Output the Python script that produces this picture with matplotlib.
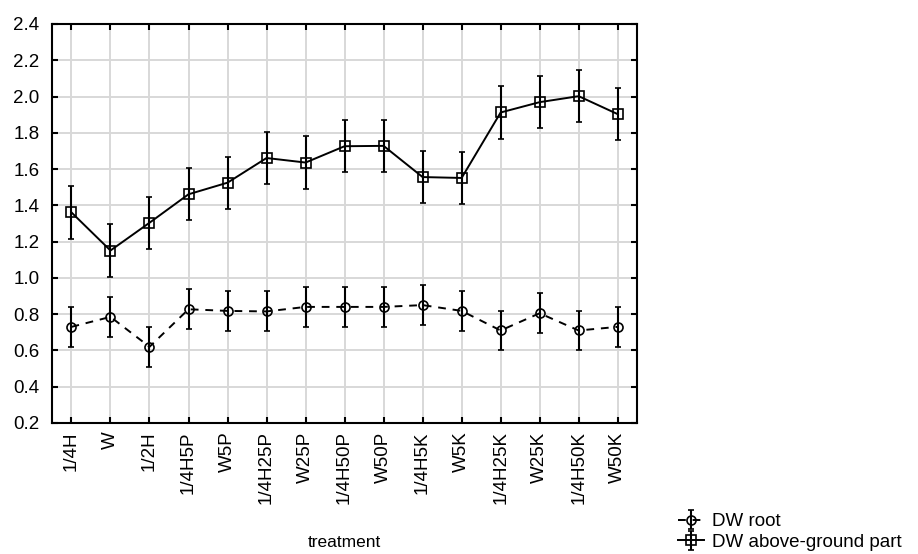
import matplotlib
matplotlib.use('Agg')
import matplotlib.pyplot as plt

plt.rcParams['font.family'] = ['Liberation Sans', 'DejaVu Sans']

treatments = ['1/4H', 'W', '1/2H', '1/4H5P', 'W5P', '1/4H25P', 'W25P', '1/4H50P',
              'W50P', '1/4H5K', 'W5K', '1/4H25K', 'W25K', '1/4H50K', 'W50K']

# DW root
root_mean = [0.73, 0.785, 0.62, 0.827, 0.818, 0.815, 0.84, 0.84, 0.84, 0.85,
             0.818, 0.71, 0.805, 0.71, 0.73]
root_err = [0.11, 0.11, 0.11, 0.11, 0.11, 0.11, 0.11, 0.11, 0.11, 0.11,
            0.11, 0.11, 0.11, 0.11, 0.11]

# DW above-ground part
above_mean = [1.361, 1.151, 1.304, 1.461, 1.525, 1.661, 1.636, 1.726, 1.728, 1.556,
              1.551, 1.912, 1.969, 2.002, 1.903]
above_err = [0.144, 0.144, 0.144, 0.144, 0.144, 0.144, 0.144, 0.144, 0.144, 0.144,
             0.144, 0.144, 0.144, 0.144, 0.144]

yticks = [0.2, 0.4, 0.6, 0.8, 1.0, 1.2, 1.4, 1.6, 1.8, 2.0, 2.2, 2.4]

fig = plt.figure(figsize=(9.18, 5.54), dpi=100)
ax = fig.add_axes([0.0566, 0.2365, 0.6375, 0.7202])

x = list(range(len(treatments)))

h_root = ax.errorbar(x, root_mean, yerr=root_err, color='black', linestyle=(0, (4, 3.5)),
                     linewidth=1.4, marker='o', markersize=6.5, markerfacecolor='none',
                     markeredgewidth=1.2, capsize=2, elinewidth=1.5, capthick=1.5,
                     label='DW root', zorder=3)
h_above = ax.errorbar(x, above_mean, yerr=above_err, color='black', linestyle='-',
                      linewidth=1.4, marker='s', markersize=7, markerfacecolor='none',
                      markeredgewidth=1.2, capsize=2, elinewidth=1.5, capthick=1.5,
                      label='DW above-ground part', zorder=3)

ax.set_xlim(-0.5, len(treatments) - 0.5)
ax.set_ylim(0.2, 2.4)
ax.set_xticks(x)
ax.set_xticklabels(treatments, rotation=90, fontsize=13.5)
ax.set_yticks(yticks)
ax.set_yticklabels(['%.1f' % v for v in yticks], fontsize=13.5)
ax.tick_params(direction='in', top=True, right=True, length=4, width=1.5, pad=6)
ax.tick_params(axis='y', pad=9)

ax.grid(True, color='#d8d8d8', linewidth=1.4)
ax.set_axisbelow(True)
for s in ax.spines.values():
    s.set_linewidth(1.5)

ax.set_xlabel('treatment', fontsize=12.5, labelpad=22)

fig.legend([h_root, h_above], ['DW root', 'DW above-ground part'],
           loc='lower left', bbox_to_anchor=(0.72, -0.025), frameon=False,
           fontsize=13.5, handlelength=1.4, handletextpad=0.4, labelspacing=0.2)

fig.savefig('out.png', dpi=100)
